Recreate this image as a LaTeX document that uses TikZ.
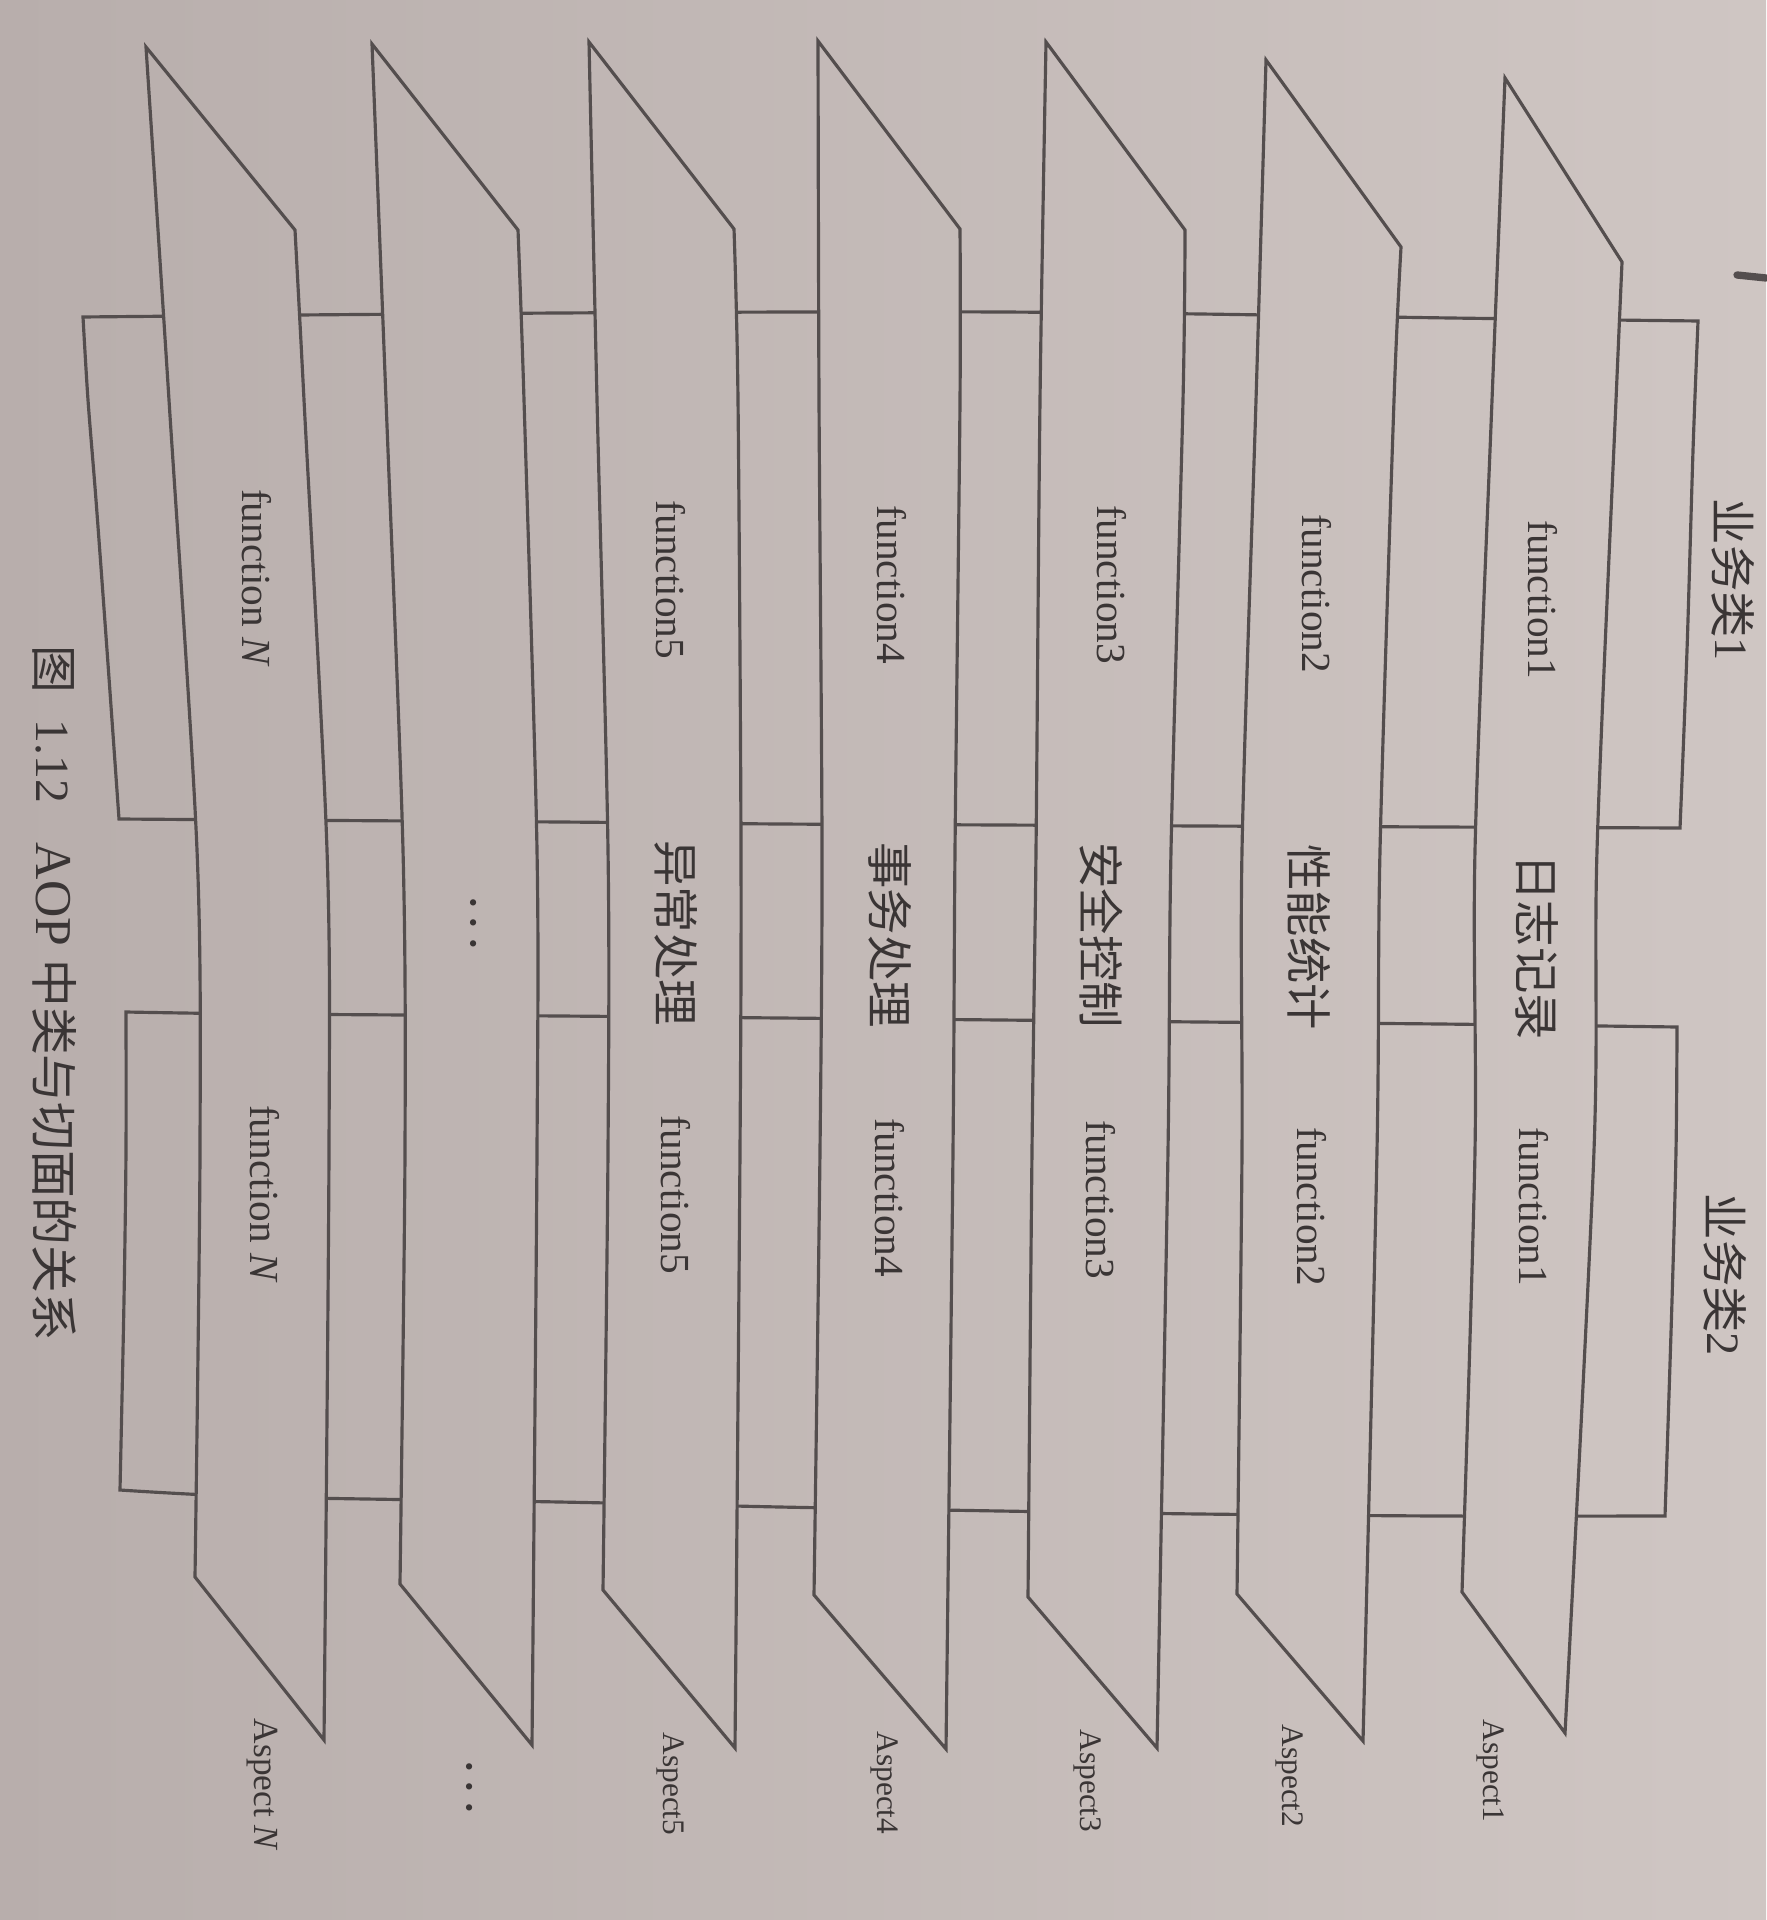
\documentclass[tikz,border=0pt]{standalone}
\usepackage{fontspec}
\setmainfont{Liberation Serif}
\newfontfamily\cjk{Noto Sans CJK SC}
\definecolor{bgL}{RGB}{184,174,172}
\definecolor{bgR}{RGB}{207,198,195}
\definecolor{linec}{RGB}{84,78,78}
\definecolor{txtc}{RGB}{58,53,53}
\tikzset{
  edge/.style={draw=linec, line width=0.95pt, line join=miter},
  bgshade/.style={left color=bgL, right color=bgR},
  lab/.style={text=txtc, rotate=-90, inner sep=0pt, font=\fontsize{12.4}{14}\selectfont},
  cjklab/.style={text=txtc, rotate=-90, inner sep=0pt, font=\cjk\fontsize{13.9}{15}\selectfont},
  asplab/.style={text=txtc, rotate=-90, inner sep=0pt, font=\fontsize{9.4}{11}\selectfont},
  dotlab/.style={text=txtc, rotate=-90, inner sep=0pt, font=\fontsize{13}{14}\selectfont\boldmath},
}
\newcommand\aspectsheet[1]{%
  \begin{scope}\clip #1; \shade[bgshade] (0,0) rectangle (1766,1920);\end{scope}
  \draw[edge] #1;}
\begin{document}
\begin{tikzpicture}[x=0.3pt, y=-0.3pt]
\useasboundingbox (0,0) rectangle (1766,1920);
\shade[bgshade] (0,0) rectangle (1766,1920);

% business class 1
\draw[edge] plot[smooth] coordinates {(83,317) (300,315) (560,313) (800,312) (1000,312) (1200,314) (1450,318) (1698,321)}
  -- plot[smooth] coordinates {(1698,321) (1693,450) (1687,650) (1680,828)}
  -- plot[smooth] coordinates {(1680,828) (1440,827) (1200,826) (1000,825) (780,824) (560,822) (260,820) (119,819)}
  -- plot[smooth] coordinates {(119,819) (107,650) (96,500) (88,400) (83,317)} -- cycle;
% business class 2
\draw[edge] plot[smooth] coordinates {(126,1012) (260,1014) (560,1016) (780,1018) (1000,1020) (1200,1022) (1440,1024) (1677,1027)}
  -- plot[smooth] coordinates {(1677,1027) (1676,1150) (1672,1300) (1665,1516)}
  -- plot[smooth] coordinates {(1665,1516) (1440,1516) (1200,1514) (1000,1511) (780,1507) (560,1502) (260,1497) (120,1490)}
  -- plot[smooth] coordinates {(120,1490) (124,1300) (126,1150) (126,1012)} -- cycle;

% aspect sheets
\aspectsheet{(146,47) -- (295,230) -- plot[smooth] coordinates {(295,230) (304,400) (327,850) (329,1150) (324,1740)} -- (195,1577) -- plot[smooth] coordinates {(195,1577) (200,1150) (197,850) (169,400) (146,47)} -- cycle}
\aspectsheet{(372,44) -- (518,230) -- plot[smooth] coordinates {(518,230) (524,400) (537,850) (537,1150) (532,1745)} -- (400,1584) -- plot[smooth] coordinates {(400,1584) (405,1150) (403,850) (386,400) (372,44)} -- cycle}
\aspectsheet{(589,42) -- (734,229) -- plot[smooth] coordinates {(734,229) (738,400) (741,850) (740,1150) (735,1748)} -- (603,1590) -- plot[smooth] coordinates {(603,1590) (608,1150) (608,850) (597,400) (589,42)} -- cycle}
\aspectsheet{(818,41) -- (960,229) -- plot[smooth] coordinates {(960,229) (960,400) (955,850) (953,1150) (946,1749)} -- (814,1595) -- plot[smooth] coordinates {(814,1595) (820,1150) (822,850) (819,400) (818,41)} -- cycle}
\aspectsheet{(1046,42) -- (1185,230) -- plot[smooth] coordinates {(1185,230) (1183,400) (1171,850) (1168,1150) (1157,1748)} -- (1028,1597) -- plot[smooth] coordinates {(1028,1597) (1032,1150) (1036,850) (1040,400) (1046,42)} -- cycle}
\aspectsheet{(1266,60) -- (1401,247) -- plot[smooth] coordinates {(1401,247) (1394,400) (1380,850) (1377,1150) (1363,1741)} -- (1237,1594) -- plot[smooth] coordinates {(1237,1594) (1242,1150) (1242,850) (1256,400) (1266,60)} -- cycle}
\aspectsheet{(1505,78) -- (1622,262) -- plot[smooth] coordinates {(1622,262) (1616,400) (1597,850) (1594,1150) (1565,1733)} -- (1462,1592) -- plot[smooth] coordinates {(1462,1592) (1475,1150) (1475,850) (1492,400) (1505,78)} -- cycle}

% small mark at the page edge
\draw[line width=2.2pt, draw=linec, line cap=round] (1737,275) -- (1766,278);

% class labels
\node[cjklab] (c1) at (1733,580) {业务类\rmfamily 1};
\node[cjklab] (c2) at (1725,1275) {业务类\rmfamily 2};

% functions of class 1
\node[lab] (f1a) at (1543,600) {function1};
\node[lab] (f2a) at (1317,594) {function2};
\node[lab] (f3a) at (1112,585) {function3};
\node[lab] (f4a) at (892,585) {function4};
\node[lab] (f5a) at (671,580) {function5};
\node[lab] (fNa) at (257,578) {function \textit{N}};

% functions of class 2
\node[lab] (f1b) at (1534,1207) {function1};
\node[lab] (f2b) at (1312,1207) {function2};
\node[lab] (f3b) at (1101,1200) {function3};
\node[lab] (f4b) at (890,1198) {function4};
\node[lab] (f5b) at (676,1195) {function5};
\node[lab] (fNb) at (265,1194) {function \textit{N}};

% aspect names inside sheets
\node[cjklab] (s1) at (1537,947) {日志记录};
\node[cjklab] (s2) at (1309,937) {性能统计};
\node[cjklab] (s3) at (1101,935) {安全控制};
\node[cjklab] (s4) at (890,935) {事务处理};
\node[cjklab] (s5) at (676,933) {异常处理};
\node[dotlab] (sd) at (473,923) {$\cdots$};

% aspect labels
\node[asplab] (a1) at (1490,1771) {Aspect1};
\node[asplab] (a2) at (1290,1776) {Aspect2};
\node[asplab] (a3) at (1088,1781) {Aspect3};
\node[asplab] (a4) at (884,1783) {Aspect4};
\node[asplab] (a5) at (670,1784) {Aspect5};
\node[dotlab] (ad) at (469,1787) {$\cdots$};
\node[asplab, font=\fontsize{10.6}{12}\selectfont] (aN) at (262,1785) {Aspect \textit{N}};

% caption
\node[text=txtc, rotate=-90, inner sep=0pt, font=\cjk\fontsize{14.3}{15}\selectfont] (cap) at (55,993)
  {图\hspace{8pt}{\rmfamily 1.12}\hspace{12pt}{\rmfamily\fontsize{15.5}{16}\selectfont AOP}\hspace{4pt}中类与切面的关系};
\end{tikzpicture}
\end{document}
